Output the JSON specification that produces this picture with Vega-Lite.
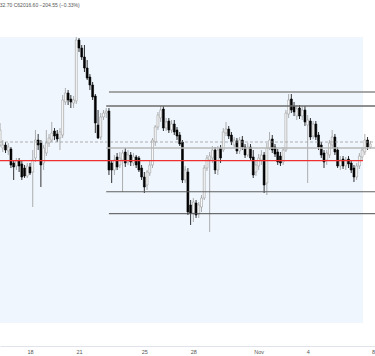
{
  "$schema": "https://vega.github.io/schema/vega-lite/v6.json",
  "width": 375,
  "height": 336,
  "autosize": {"type": "none"},
  "padding": {"left": 0, "right": 0, "top": 10, "bottom": 10},
  "background": "#ffffff",
  "title": {"text": "32.70 C62016.60 −204.55 (−0.33%)", "anchor": "start", "fontSize": 5, "fontWeight": "normal", "color": "#555555", "font": "Liberation Sans", "offset": 2, "dx": 1},
  "config": {"view": {"stroke": null}},
  "datasets": {
    "bg": [{"t": "2021-10-16T03:55:00Z", "t2": "2021-11-07T09:20:00Z", "p1": 68150, "p2": 53850}],
    "levels": [
      {"kind": "r2", "t": "2021-10-22T20:00:00Z", "t2": "2021-11-08T02:56:00Z", "p": 65400},
      {"kind": "r1", "t": "2021-10-22T16:00:00Z", "t2": "2021-11-08T02:56:00Z", "p": 64700},
      {"kind": "dash", "t": "2021-10-16T03:55:00Z", "t2": "2021-11-08T02:56:00Z", "p": 62900},
      {"kind": "mid", "t": "2021-10-22T16:00:00Z", "t2": "2021-11-08T02:56:00Z", "p": 62600},
      {"kind": "red", "t": "2021-10-16T03:55:00Z", "t2": "2021-11-07T09:20:00Z", "p": 61965},
      {"kind": "s1", "t": "2021-10-22T16:00:00Z", "t2": "2021-11-08T02:56:00Z", "p": 60415},
      {"kind": "s2", "t": "2021-10-22T20:00:00Z", "t2": "2021-11-08T02:56:00Z", "p": 59315}
    ],
    "candles": [
      {"t": "2021-10-16T04:00:00Z", "o": 62750, "h": 63850, "l": 62650, "c": 63500},
      {"t": "2021-10-16T08:00:00Z", "o": 62600, "h": 63000, "l": 62400, "c": 62750},
      {"t": "2021-10-16T12:00:00Z", "o": 62750, "h": 62900, "l": 62350, "c": 62500},
      {"t": "2021-10-16T16:00:00Z", "o": 62450, "h": 62850, "l": 62250, "c": 62650},
      {"t": "2021-10-16T20:00:00Z", "o": 62550, "h": 62650, "l": 61600, "c": 61750},
      {"t": "2021-10-17T00:00:00Z", "o": 61850, "h": 62000, "l": 61000, "c": 61650},
      {"t": "2021-10-17T04:00:00Z", "o": 61700, "h": 62100, "l": 61500, "c": 61950},
      {"t": "2021-10-17T08:00:00Z", "o": 61950, "h": 62100, "l": 61400, "c": 61700},
      {"t": "2021-10-17T12:00:00Z", "o": 61800, "h": 62000, "l": 61000, "c": 61150},
      {"t": "2021-10-17T16:00:00Z", "o": 61600, "h": 61750, "l": 61100, "c": 61200},
      {"t": "2021-10-17T20:00:00Z", "o": 61200, "h": 61850, "l": 61100, "c": 61700},
      {"t": "2021-10-18T00:00:00Z", "o": 61650, "h": 61850, "l": 61250, "c": 61350},
      {"t": "2021-10-18T04:00:00Z", "o": 61400, "h": 62500, "l": 59650, "c": 62000},
      {"t": "2021-10-18T08:00:00Z", "o": 62100, "h": 63500, "l": 61900, "c": 63000},
      {"t": "2021-10-18T12:00:00Z", "o": 63000, "h": 63300, "l": 62500, "c": 62750},
      {"t": "2021-10-18T16:00:00Z", "o": 62850, "h": 63000, "l": 60650, "c": 61750},
      {"t": "2021-10-18T20:00:00Z", "o": 61850, "h": 62750, "l": 61500, "c": 62600},
      {"t": "2021-10-19T00:00:00Z", "o": 62350, "h": 63500, "l": 62200, "c": 62850},
      {"t": "2021-10-19T04:00:00Z", "o": 62850, "h": 63300, "l": 62650, "c": 63100},
      {"t": "2021-10-19T08:00:00Z", "o": 63000, "h": 63900, "l": 62900, "c": 63350},
      {"t": "2021-10-19T12:00:00Z", "o": 63450, "h": 63600, "l": 63000, "c": 63200},
      {"t": "2021-10-19T16:00:00Z", "o": 63300, "h": 63500, "l": 62900, "c": 63050},
      {"t": "2021-10-19T20:00:00Z", "o": 63100, "h": 63600, "l": 62500, "c": 63400},
      {"t": "2021-10-20T00:00:00Z", "o": 63250, "h": 65250, "l": 63100, "c": 65000},
      {"t": "2021-10-20T04:00:00Z", "o": 64900, "h": 65600, "l": 64750, "c": 65350},
      {"t": "2021-10-20T08:00:00Z", "o": 65350, "h": 65500, "l": 64750, "c": 65000},
      {"t": "2021-10-20T12:00:00Z", "o": 65050, "h": 65250, "l": 64600, "c": 64900},
      {"t": "2021-10-20T16:00:00Z", "o": 64850, "h": 65200, "l": 64600, "c": 65000},
      {"t": "2021-10-20T20:00:00Z", "o": 64950, "h": 68150, "l": 64800, "c": 68000},
      {"t": "2021-10-21T00:00:00Z", "o": 68000, "h": 68100, "l": 67400, "c": 67600},
      {"t": "2021-10-21T04:00:00Z", "o": 67600, "h": 67750, "l": 67000, "c": 67150},
      {"t": "2021-10-21T08:00:00Z", "o": 67150, "h": 67750, "l": 66400, "c": 66600},
      {"t": "2021-10-21T12:00:00Z", "o": 66600, "h": 67000, "l": 66000, "c": 66100},
      {"t": "2021-10-21T16:00:00Z", "o": 66150, "h": 66300, "l": 65500, "c": 65750},
      {"t": "2021-10-21T20:00:00Z", "o": 65750, "h": 65900, "l": 65000, "c": 65150},
      {"t": "2021-10-22T00:00:00Z", "o": 65200, "h": 65300, "l": 63350, "c": 63850},
      {"t": "2021-10-22T04:00:00Z", "o": 63750, "h": 64500, "l": 63050, "c": 63100},
      {"t": "2021-10-22T08:00:00Z", "o": 63150, "h": 64350, "l": 63000, "c": 64150},
      {"t": "2021-10-22T12:00:00Z", "o": 64150, "h": 64500, "l": 64000, "c": 64350},
      {"t": "2021-10-22T16:00:00Z", "o": 64350, "h": 64600, "l": 64100, "c": 64450},
      {"t": "2021-10-22T20:00:00Z", "o": 64450, "h": 64600, "l": 61250, "c": 61500},
      {"t": "2021-10-23T00:00:00Z", "o": 61850, "h": 62000, "l": 60850, "c": 61500},
      {"t": "2021-10-23T04:00:00Z", "o": 61500, "h": 62250, "l": 61250, "c": 62000},
      {"t": "2021-10-23T08:00:00Z", "o": 62150, "h": 62350, "l": 61500, "c": 61650},
      {"t": "2021-10-23T12:00:00Z", "o": 61750, "h": 62400, "l": 61600, "c": 62100},
      {"t": "2021-10-23T16:00:00Z", "o": 62000, "h": 62500, "l": 60400, "c": 62350},
      {"t": "2021-10-23T20:00:00Z", "o": 62400, "h": 62600, "l": 61650, "c": 61850},
      {"t": "2021-10-24T00:00:00Z", "o": 61900, "h": 62500, "l": 61750, "c": 62250},
      {"t": "2021-10-24T04:00:00Z", "o": 62250, "h": 62400, "l": 61700, "c": 61900},
      {"t": "2021-10-24T08:00:00Z", "o": 61850, "h": 62350, "l": 61700, "c": 62150},
      {"t": "2021-10-24T12:00:00Z", "o": 62150, "h": 62250, "l": 61600, "c": 61750},
      {"t": "2021-10-24T16:00:00Z", "o": 62100, "h": 62200, "l": 61400, "c": 61500},
      {"t": "2021-10-24T20:00:00Z", "o": 61600, "h": 61750, "l": 61000, "c": 61150},
      {"t": "2021-10-25T00:00:00Z", "o": 61150, "h": 61400, "l": 60350, "c": 60650},
      {"t": "2021-10-25T04:00:00Z", "o": 60750, "h": 61500, "l": 60500, "c": 61400},
      {"t": "2021-10-25T08:00:00Z", "o": 61350, "h": 62000, "l": 61200, "c": 61750},
      {"t": "2021-10-25T12:00:00Z", "o": 61750, "h": 63100, "l": 61600, "c": 63000},
      {"t": "2021-10-25T16:00:00Z", "o": 62900, "h": 63750, "l": 62700, "c": 63650},
      {"t": "2021-10-25T20:00:00Z", "o": 63650, "h": 64400, "l": 63500, "c": 64250},
      {"t": "2021-10-26T00:00:00Z", "o": 64100, "h": 64700, "l": 63900, "c": 64500},
      {"t": "2021-10-26T04:00:00Z", "o": 64550, "h": 64700, "l": 63450, "c": 63600},
      {"t": "2021-10-26T08:00:00Z", "o": 63600, "h": 64100, "l": 63450, "c": 63900},
      {"t": "2021-10-26T12:00:00Z", "o": 63950, "h": 64100, "l": 63350, "c": 63500},
      {"t": "2021-10-26T16:00:00Z", "o": 63500, "h": 64000, "l": 63350, "c": 63800},
      {"t": "2021-10-26T20:00:00Z", "o": 63800, "h": 64000, "l": 63250, "c": 63400},
      {"t": "2021-10-27T00:00:00Z", "o": 63500, "h": 63650, "l": 63000, "c": 63200},
      {"t": "2021-10-27T04:00:00Z", "o": 63250, "h": 63400, "l": 62700, "c": 62800},
      {"t": "2021-10-27T08:00:00Z", "o": 62900, "h": 63000, "l": 60850, "c": 61000},
      {"t": "2021-10-27T12:00:00Z", "o": 61000, "h": 61700, "l": 60850, "c": 61500},
      {"t": "2021-10-27T16:00:00Z", "o": 61400, "h": 61600, "l": 59250, "c": 59400},
      {"t": "2021-10-27T20:00:00Z", "o": 59750, "h": 60000, "l": 58750, "c": 59350},
      {"t": "2021-10-28T00:00:00Z", "o": 59350, "h": 60100, "l": 58900, "c": 59900},
      {"t": "2021-10-28T04:00:00Z", "o": 59850, "h": 60000, "l": 59100, "c": 59250},
      {"t": "2021-10-28T08:00:00Z", "o": 59300, "h": 59900, "l": 59100, "c": 59750},
      {"t": "2021-10-28T12:00:00Z", "o": 59650, "h": 60250, "l": 59400, "c": 60100},
      {"t": "2021-10-28T16:00:00Z", "o": 60100, "h": 61750, "l": 60000, "c": 61600},
      {"t": "2021-10-28T20:00:00Z", "o": 61600, "h": 62250, "l": 61450, "c": 62100},
      {"t": "2021-10-29T00:00:00Z", "o": 62000, "h": 62400, "l": 58400, "c": 62200},
      {"t": "2021-10-29T04:00:00Z", "o": 62100, "h": 62700, "l": 61850, "c": 62500},
      {"t": "2021-10-29T08:00:00Z", "o": 62500, "h": 62650, "l": 61300, "c": 61500},
      {"t": "2021-10-29T12:00:00Z", "o": 61500, "h": 62700, "l": 61250, "c": 62500},
      {"t": "2021-10-29T16:00:00Z", "o": 62600, "h": 62750, "l": 61850, "c": 62100},
      {"t": "2021-10-29T20:00:00Z", "o": 62500, "h": 63600, "l": 62400, "c": 63400},
      {"t": "2021-10-30T00:00:00Z", "o": 63350, "h": 63900, "l": 63200, "c": 63550},
      {"t": "2021-10-30T04:00:00Z", "o": 63550, "h": 63700, "l": 63050, "c": 63200},
      {"t": "2021-10-30T08:00:00Z", "o": 63250, "h": 63400, "l": 62750, "c": 62900},
      {"t": "2021-10-30T12:00:00Z", "o": 62750, "h": 63150, "l": 62600, "c": 63000},
      {"t": "2021-10-30T16:00:00Z", "o": 62950, "h": 63100, "l": 62300, "c": 62450},
      {"t": "2021-10-30T20:00:00Z", "o": 62450, "h": 63150, "l": 62300, "c": 63000},
      {"t": "2021-10-31T00:00:00Z", "o": 63000, "h": 63200, "l": 62500, "c": 62650},
      {"t": "2021-10-31T04:00:00Z", "o": 62650, "h": 62800, "l": 62100, "c": 62250},
      {"t": "2021-10-31T08:00:00Z", "o": 62250, "h": 62850, "l": 62150, "c": 62650},
      {"t": "2021-10-31T12:00:00Z", "o": 62650, "h": 62800, "l": 62000, "c": 62100},
      {"t": "2021-10-31T16:00:00Z", "o": 62150, "h": 62500, "l": 61100, "c": 61250},
      {"t": "2021-10-31T20:00:00Z", "o": 61400, "h": 62000, "l": 61200, "c": 61750},
      {"t": "2021-11-01T00:00:00Z", "o": 61700, "h": 62300, "l": 61500, "c": 62100},
      {"t": "2021-11-01T04:00:00Z", "o": 62000, "h": 62500, "l": 61750, "c": 62250},
      {"t": "2021-11-01T08:00:00Z", "o": 62250, "h": 62400, "l": 60350, "c": 60750},
      {"t": "2021-11-01T12:00:00Z", "o": 60850, "h": 62850, "l": 60250, "c": 62600},
      {"t": "2021-11-01T16:00:00Z", "o": 62600, "h": 63400, "l": 62500, "c": 63000},
      {"t": "2021-11-01T20:00:00Z", "o": 63050, "h": 63250, "l": 62350, "c": 62500},
      {"t": "2021-11-02T00:00:00Z", "o": 62650, "h": 62800, "l": 62150, "c": 62300},
      {"t": "2021-11-02T04:00:00Z", "o": 62400, "h": 62550, "l": 61750, "c": 61900},
      {"t": "2021-11-02T08:00:00Z", "o": 62200, "h": 62400, "l": 61700, "c": 61850},
      {"t": "2021-11-02T12:00:00Z", "o": 61900, "h": 62650, "l": 61750, "c": 62500},
      {"t": "2021-11-02T16:00:00Z", "o": 62500, "h": 64500, "l": 62400, "c": 64350},
      {"t": "2021-11-02T20:00:00Z", "o": 64300, "h": 65300, "l": 64100, "c": 65000},
      {"t": "2021-11-03T00:00:00Z", "o": 65050, "h": 65300, "l": 64350, "c": 64500},
      {"t": "2021-11-03T04:00:00Z", "o": 64700, "h": 64900, "l": 64200, "c": 64400},
      {"t": "2021-11-03T08:00:00Z", "o": 64200, "h": 64750, "l": 64000, "c": 64550},
      {"t": "2021-11-03T12:00:00Z", "o": 64600, "h": 64750, "l": 64050, "c": 64200},
      {"t": "2021-11-03T16:00:00Z", "o": 64200, "h": 64700, "l": 64000, "c": 64500},
      {"t": "2021-11-03T20:00:00Z", "o": 64500, "h": 64700, "l": 63700, "c": 63900},
      {"t": "2021-11-04T00:00:00Z", "o": 63750, "h": 64250, "l": 60850, "c": 64000},
      {"t": "2021-11-04T04:00:00Z", "o": 63950, "h": 64100, "l": 63000, "c": 63150},
      {"t": "2021-11-04T08:00:00Z", "o": 63200, "h": 63950, "l": 63050, "c": 63800},
      {"t": "2021-11-04T12:00:00Z", "o": 63800, "h": 63950, "l": 63000, "c": 63150},
      {"t": "2021-11-04T16:00:00Z", "o": 63250, "h": 63400, "l": 62500, "c": 62650},
      {"t": "2021-11-04T20:00:00Z", "o": 62750, "h": 62900, "l": 62100, "c": 62250},
      {"t": "2021-11-05T00:00:00Z", "o": 62350, "h": 62500, "l": 61600, "c": 61900},
      {"t": "2021-11-05T04:00:00Z", "o": 62000, "h": 62500, "l": 61750, "c": 62350},
      {"t": "2021-11-05T08:00:00Z", "o": 62250, "h": 63000, "l": 62100, "c": 62850},
      {"t": "2021-11-05T12:00:00Z", "o": 62750, "h": 63500, "l": 62600, "c": 63150},
      {"t": "2021-11-05T16:00:00Z", "o": 63150, "h": 63300, "l": 62250, "c": 62400},
      {"t": "2021-11-05T20:00:00Z", "o": 62500, "h": 62650, "l": 61600, "c": 61700},
      {"t": "2021-11-06T00:00:00Z", "o": 61700, "h": 62200, "l": 61500, "c": 62000},
      {"t": "2021-11-06T04:00:00Z", "o": 62050, "h": 62200, "l": 61550, "c": 61700},
      {"t": "2021-11-06T08:00:00Z", "o": 61700, "h": 62150, "l": 61500, "c": 62000},
      {"t": "2021-11-06T12:00:00Z", "o": 62050, "h": 62200, "l": 61600, "c": 61800},
      {"t": "2021-11-06T16:00:00Z", "o": 61850, "h": 62000, "l": 61350, "c": 61500},
      {"t": "2021-11-06T20:00:00Z", "o": 61600, "h": 61750, "l": 60900, "c": 61150},
      {"t": "2021-11-07T00:00:00Z", "o": 61150, "h": 61850, "l": 61000, "c": 61700},
      {"t": "2021-11-07T04:00:00Z", "o": 61700, "h": 62350, "l": 61550, "c": 62200},
      {"t": "2021-11-07T08:00:00Z", "o": 62150, "h": 62650, "l": 62000, "c": 62500},
      {"t": "2021-11-07T12:00:00Z", "o": 62400, "h": 63300, "l": 62250, "c": 63000},
      {"t": "2021-11-07T16:00:00Z", "o": 63000, "h": 63150, "l": 62500, "c": 62650},
      {"t": "2021-11-07T20:00:00Z", "o": 62650, "h": 62950, "l": 62550, "c": 62800}
    ]
  },
  "encoding": {
    "x": {
      "field": "t",
      "type": "temporal",
      "scale": {"type": "utc", "padding": 0, "domain": [{"year": 2021, "month": 10, "date": 16, "hours": 3, "minutes": 55, "utc": true}, {"year": 2021, "month": 11, "date": 8, "hours": 2, "minutes": 56, "utc": true}]},
      "axis": {
        "values": [
          {"year": 2021, "month": 10, "date": 18, "utc": true},
          {"year": 2021, "month": 10, "date": 21, "utc": true},
          {"year": 2021, "month": 10, "date": 25, "utc": true},
          {"year": 2021, "month": 10, "date": 28, "utc": true},
          {"year": 2021, "month": 11, "date": 1, "utc": true},
          {"year": 2021, "month": 11, "date": 4, "utc": true},
          {"year": 2021, "month": 11, "date": 8, "utc": true}
        ],
        "labelExpr": "utcdate(datum.value) == 1 ? utcFormat(datum.value, '%b') : '' + utcdate(datum.value)",
        "title": null,
        "ticks": false,
        "grid": false,
        "domainColor": "#e0e3eb",
        "domainWidth": 1,
        "labelFontSize": 5.5,
        "labelColor": "#555555",
        "labelFont": "Liberation Sans",
        "labelPadding": 3,
        "labelFlush": false,
        "labelOverlap": false
      }
    }
  },
  "layer": [
    {
      "data": {"name": "bg"},
      "mark": {"type": "rect", "color": "#eff6fd"},
      "encoding": {
        "x2": {"field": "t2"},
        "y": {"field": "p1", "type": "quantitative", "scale": {"domain": [52700, 69500], "zero": false, "nice": false}, "axis": null},
        "y2": {"field": "p2"}
      }
    },
    {
      "data": {"name": "candles"},
      "mark": {"type": "rule", "strokeWidth": 0.8},
      "encoding": {
        "y": {"field": "l", "type": "quantitative", "scale": {"domain": [52700, 69500], "zero": false, "nice": false}, "axis": null},
        "y2": {"field": "h"},
        "stroke": {"condition": {"test": "datum.c >= datum.o", "value": "#9a9a9a"}, "value": "#000000"}
      }
    },
    {
      "data": {"name": "candles"},
      "mark": {"type": "bar", "width": 1.9, "strokeWidth": 0.6},
      "encoding": {
        "y": {"field": "o", "type": "quantitative", "scale": {"domain": [52700, 69500], "zero": false, "nice": false}, "axis": null},
        "y2": {"field": "c"},
        "fill": {"condition": {"test": "datum.c >= datum.o", "value": "#ffffff"}, "value": "#000000"},
        "stroke": {"condition": {"test": "datum.c >= datum.o", "value": "#9a9a9a"}, "value": "#000000"}
      }
    },
    {
      "data": {"name": "levels"},
      "transform": [{"filter": "datum.kind == 'dash'"}],
      "mark": {"type": "rule", "strokeWidth": 0.8, "strokeDash": [3, 2], "color": "#a0a0a0"},
      "encoding": {
        "x2": {"field": "t2"},
        "y": {"field": "p", "type": "quantitative", "scale": {"domain": [52700, 69500], "zero": false, "nice": false}, "axis": null}
      }
    },
    {
      "data": {"name": "levels"},
      "transform": [{"filter": "datum.kind != 'dash'"}],
      "mark": {"type": "rule"},
      "encoding": {
        "x2": {"field": "t2"},
        "y": {"field": "p", "type": "quantitative", "scale": {"domain": [52700, 69500], "zero": false, "nice": false}, "axis": null},
        "color": {"field": "kind", "type": "nominal", "scale": {"domain": ["r2", "r1", "mid", "red", "s1", "s2"], "range": ["#8a8a8a", "#6b6b6b", "#b8b8b8", "#ef2f2f", "#5f5f5f", "#4d4d4d"]}, "legend": null},
        "strokeWidth": {"field": "kind", "type": "nominal", "scale": {"domain": ["r2", "r1", "mid", "red", "s1", "s2"], "range": [1.6, 1, 1.6, 1.5, 1, 1.5]}, "legend": null}
      }
    }
  ]
}
